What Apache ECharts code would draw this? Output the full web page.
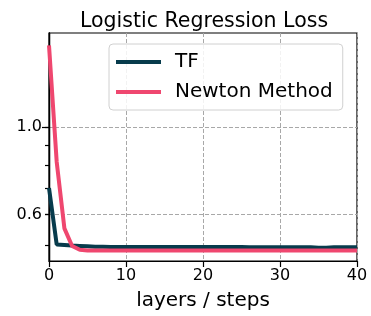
<!DOCTYPE html>
<html><head><meta charset="utf-8">
<script src="https://cdn.jsdelivr.net/npm/echarts@6/dist/echarts.min.js"></script>
<style>html,body{margin:0;padding:0;background:#fff}#c{width:371px;height:316px}</style>
</head><body><div id="c"></div>
<script>
var steps = [];
for (var i = 0; i <= 40; i++) steps.push(i);
var tfLoss = [0.700, 0.503, 0.502, 0.500, 0.499, 0.498, 0.497, 0.497, 0.496, 0.496,
  0.496, 0.496, 0.496, 0.496, 0.496, 0.496, 0.496, 0.496, 0.496, 0.496,
  0.496, 0.496, 0.496, 0.496, 0.496, 0.496, 0.495, 0.495, 0.495, 0.495,
  0.495, 0.495, 0.495, 0.495, 0.495, 0.494, 0.494, 0.495, 0.495, 0.495, 0.495];
var newtonLoss = [1.61, 0.815, 0.553, 0.499, 0.488, 0.486, 0.486, 0.486, 0.486, 0.486,
  0.486, 0.486, 0.486, 0.486, 0.486, 0.486, 0.486, 0.486, 0.486, 0.486,
  0.486, 0.486, 0.486, 0.486, 0.486, 0.486, 0.486, 0.486, 0.486, 0.486,
  0.486, 0.486, 0.486, 0.486, 0.486, 0.486, 0.486, 0.486, 0.486, 0.486, 0.486];
var xTicks = [0, 10, 20, 30, 40];
var yLabelTicks = [0.6, 1.0];
var yMajorTicks = [1.0];
var yMinorTicks = [0.5, 0.6, 0.7, 0.8, 0.9];
var seriesNames = ['TF', 'Newton Method'];

var FONT = 'DejaVu Sans';
var yMin = 0.457, yMax = 1.73;
function pair(xs, ys) { return xs.map(function (x, k) { return [x, ys[k]]; }); }
var dashed = { color: '#a8a8a8', width: 1, type: [4, 2] };
function yAx(extra) {
  var base = { type: 'log', logBase: 10, min: yMin, max: yMax, position: 'left',
    axisLine: { show: true, lineStyle: { color: '#000', width: 1.2 } },
    axisTick: { show: false }, axisLabel: { show: false }, splitLine: { show: false } };
  for (var k in extra) base[k] = extra[k];
  return base;
}
var chart = echarts.init(document.getElementById('c'), null, { renderer: 'canvas' });
chart.setOption({
  animation: false,
  title: { text: 'Logistic Regression Loss', left: 199, textAlign: 'center', top: 6,
    textStyle: { fontFamily: FONT, fontSize: 20.5, fontWeight: 'normal', color: '#000' } },
  grid: { left: 49, right: 14, top: 33, bottom: 53, show: true, borderColor: '#000', borderWidth: 1.2, containLabel: false },
  legend: {
    data: seriesNames, orient: 'vertical', left: 109, top: 44,
    icon: 'rect', itemWidth: 45, itemHeight: 4, itemGap: 8,
    padding: [7, 10, 7, 7], backgroundColor: 'rgba(255,255,255,0.85)',
    borderColor: '#d0d0d0', borderWidth: 1, borderRadius: 4,
    textStyle: { fontFamily: FONT, fontSize: 20, lineHeight: 22, color: '#000', padding: [0, 0, 0, 9] }
  },
  xAxis: { type: 'value', min: 0, max: 40, interval: 10,
    name: 'layers / steps', nameLocation: 'middle', nameGap: 30,
    nameTextStyle: { fontFamily: FONT, fontSize: 20, color: '#000' },
    axisLine: { show: true, lineStyle: { color: '#000', width: 1.2 } },
    axisTick: { show: true, length: 6, inside: false, lineStyle: { color: '#000', width: 1.2 } },
    axisLabel: { fontFamily: FONT, fontSize: 16, color: '#000', margin: 7,
      customValues: xTicks, formatter: function (v) { return String(v); } },
    splitLine: { show: true, lineStyle: dashed } },
  yAxis: [
    yAx({ axisTick: { show: true, length: 4, customValues: yLabelTicks, lineStyle: { color: '#000', width: 1.2 } },
      axisLabel: { show: true, customValues: yLabelTicks, fontFamily: FONT, fontSize: 16, color: '#000', margin: 7,
        formatter: function (v) { return Number(v).toFixed(1); } },
      splitLine: { show: true, lineStyle: dashed } }),
    yAx({ axisTick: { show: true, length: 7, customValues: yMajorTicks, lineStyle: { color: '#000', width: 1.2 } } }),
    yAx({ axisTick: { show: true, length: 4, customValues: yMinorTicks, lineStyle: { color: '#000', width: 1.2 } } })
  ],
  series: [
    { name: seriesNames[0], type: 'line', data: pair(steps, tfLoss), symbol: 'none', z: 3,
      lineStyle: { color: '#073b4c', width: 4 }, itemStyle: { color: '#073b4c' } },
    { name: seriesNames[1], type: 'line', data: pair(steps, newtonLoss), symbol: 'none', z: 4,
      lineStyle: { color: '#ef476f', width: 4 }, itemStyle: { color: '#ef476f' } }
  ]
});
</script></body></html>
